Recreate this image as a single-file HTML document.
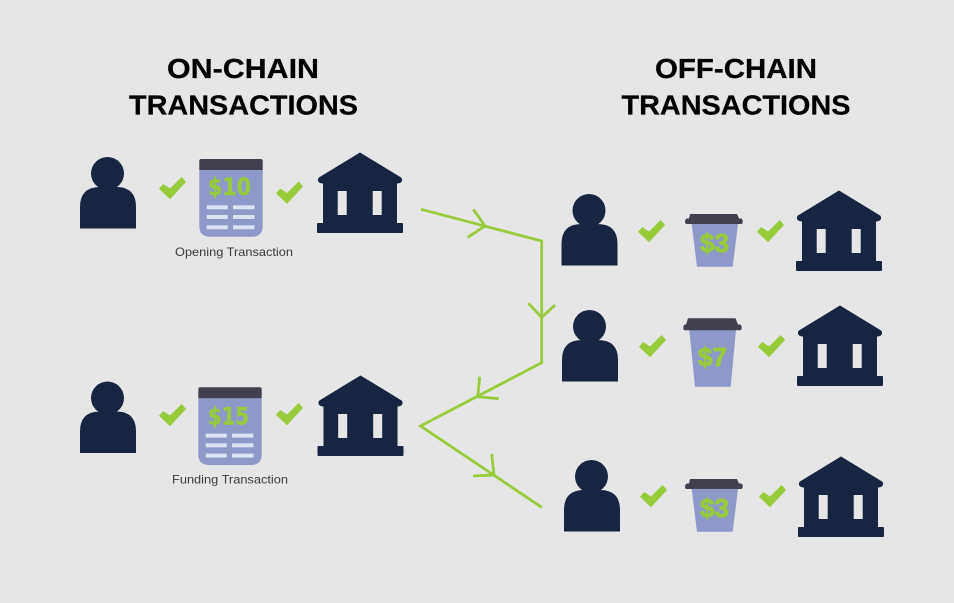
<!DOCTYPE html>
<html><head><meta charset="utf-8"><style>
html,body{margin:0;padding:0;background:#e6e6e6}
svg{display:block}
text{font-family:"Liberation Sans",sans-serif}
.t{font-size:28px;font-weight:bold;fill:#000;text-anchor:middle;stroke:#000;stroke-width:.25}
.l{font-size:12px;fill:#3a3a3a}
.m{font-weight:bold;fill:#97cb3c;stroke:#97cb3c;stroke-width:.8}
.s{font-family:"DejaVu Sans","Liberation Sans",sans-serif;font-weight:bold;fill:#97cb3c;stroke:#97cb3c;stroke-width:.4;font-size:24px}
</style></head><body>
<svg width="954" height="603" viewBox="0 0 954 603" xmlns="http://www.w3.org/2000/svg">
<defs>
<g id="p"><circle cx="107.5" cy="173.5" r="16.5" fill="#172541"/><path d="M80 228.5V207Q80 187 100 187H116Q136 187 136 207V228.5Z" fill="#172541"/></g>
<g id="b" fill="#172541"><path d="M360 153L401 178Q403 182 398 183H322Q317 182 319 178Z" stroke="#172541" stroke-linejoin="round"/><path fill-rule="evenodd" d="M323 182H397V223H323ZM337.7 191V215H346.7V191ZM372.7 191V215H381.7V191Z"/><rect x="317" y="223" width="86" height="10" rx="1"/></g>
<path id="c" fill="#97cb3c" d="M159 188.700L163.300 184L170 188.500L181.700 177L186 182L170 199.300Z"/>
<g id="r"><path d="M199.3 170H262.7V226Q262.7 236.7 252 236.7H210Q199.3 236.7 199.3 226Z" fill="#8f99c9"/><path d="M199.3 170V161Q199.3 159 201.3 159H260.7Q262.7 159 262.7 161V170Z" fill="#40404f"/>
<g fill="#dbe3f3"><rect x="206.7" y="205.3" width="21" height="4"/><rect x="233" y="205.3" width="21.5" height="4"/><rect x="206.7" y="215" width="21" height="4"/><rect x="233" y="215" width="21.5" height="4"/><rect x="206.7" y="225.3" width="21" height="4"/><rect x="233" y="225.3" width="21.5" height="4"/></g></g>
<g id="k"><path d="M691.7 224H738L732.7 266.7H697Z" fill="#8f99c9"/><path d="M690 214H737L739 218.5H741Q743 219 742.7 222Q742.5 224 741 224H687Q685 224 685 222Q685 219 687 218.500H689Z" fill="#40404f"/></g>
</defs>
<rect width="954" height="603" fill="#e6e6e6"/>
<text class="t" x="243" y="78" textLength="152" lengthAdjust="spacingAndGlyphs">ON-CHAIN</text>
<text class="t" x="243.500" y="114.700" textLength="229" lengthAdjust="spacingAndGlyphs">TRANSACTIONS</text>
<text class="t" x="736" y="78" textLength="162" lengthAdjust="spacingAndGlyphs">OFF-CHAIN</text>
<text class="t" x="736" y="114.700" textLength="229" lengthAdjust="spacingAndGlyphs">TRANSACTIONS</text>

<use href="#p"/>
<use href="#p" y="224.500"/>
<use href="#p" x="481.500" y="37"/>
<use href="#p" x="482" y="153"/>
<use href="#p" x="484" y="303"/>

<use href="#b"/>
<use href="#b" x="0.500" y="223"/>
<use href="#b" x="479" y="38"/>
<use href="#b" x="480" y="153"/>
<use href="#b" x="481" y="304"/>

<use href="#c"/>
<use href="#c" x="117" y="4.500"/>
<use href="#c" y="227"/>
<use href="#c" x="117" y="226"/>
<use href="#c" x="479" y="43"/>
<use href="#c" x="598" y="43"/>
<use href="#c" x="480" y="158"/>
<use href="#c" x="599" y="158"/>
<use href="#c" x="481" y="308"/>
<use href="#c" x="600" y="308"/>

<use href="#r"/>
<use href="#r" x="-1" y="228.300"/>
<text class="s" x="208" y="195" textLength="43" lengthAdjust="spacingAndGlyphs">$10</text>
<text class="s" x="208" y="424.500" textLength="41" lengthAdjust="spacingAndGlyphs">$15</text>
<text class="l" x="175" y="256" textLength="118" lengthAdjust="spacingAndGlyphs">Opening Transaction</text>
<text class="l" x="172" y="483.500" textLength="116" lengthAdjust="spacingAndGlyphs">Funding Transaction</text>

<use href="#k"/>
<path d="M689.300 330H736L730.700 386.700H695Z" fill="#8f99c9"/>
<path d="M688 318.300H735.500L738 324.500H740Q741.800 325 741.700 328Q741.500 330.300 740 330.300H685Q683.300 330.300 683.300 328Q683.300 325 685 324.500H686Z" fill="#40404f"/>
<use href="#k" y="265"/>
<text class="m" x="700" y="252" font-size="26" textLength="29" lengthAdjust="spacingAndGlyphs">$3</text>
<text class="m" x="698" y="366" font-size="26" textLength="29" lengthAdjust="spacingAndGlyphs">$7</text>
<text class="m" x="700" y="517" font-size="26" textLength="29" lengthAdjust="spacingAndGlyphs">$3</text>

<g fill="none" stroke="#97cb3c" stroke-width="2.800" stroke-linejoin="miter">
<path d="M421 209.300L541.700 241V362.700L420.500 426L541.700 507.300"/>
<path d="M473.300 209.300L485 226L467.700 237.300"/>
<path d="M528.300 303.300L541.700 317.300L555 305"/>
<path d="M479.700 376.700L477.700 396.700L498.700 398.700"/>
<path d="M491.700 454L494 475L473 476"/>
</g>
</svg>
</body></html>
